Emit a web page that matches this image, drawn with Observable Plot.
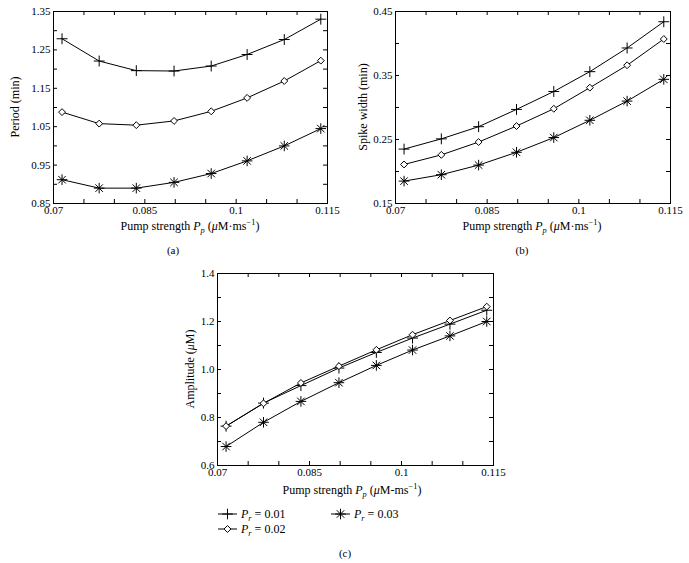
<!DOCTYPE html>
<html>
<head>
<meta charset="utf-8">
<script src="https://cdn.jsdelivr.net/npm/d3@7"></script>
<script src="https://cdn.jsdelivr.net/npm/@observablehq/plot@0.6"></script>
<style>
  html, body { margin: 0; padding: 0; background: white; }
  #root { position: relative; width: 689px; height: 563px; background: white; font-family: "Liberation Serif", "DejaVu Serif", "Times New Roman", Times, serif; color: black; overflow: hidden; }
  #root svg, #root svg text { font-family: "Liberation Serif", "DejaVu Serif", "Times New Roman", Times, serif !important; }
  .abs { position: absolute; white-space: nowrap; }
  .lbl { font-size: 12px; transform: translate(-50%, -50%); }
  .ylbl { font-size: 12px; transform: translate(-50%, -50%) rotate(-90deg); }
  .cap { font-size: 11px; transform: translate(-50%, -50%); }
  sub, sup { font-size: 70%; line-height: 0; }
</style>
</head>
<body>
<div id="root"></div>
<script>
// ---- data ----
const pumpStrength = [0.0714, 0.0775, 0.0836, 0.0898, 0.0959, 0.1018, 0.1079, 0.1139];
const seriesNames = ["Pr = 0.01", "Pr = 0.02", "Pr = 0.03"];
const periodPr001 = [1.279, 1.221, 1.196, 1.195, 1.208, 1.238, 1.277, 1.330];
const periodPr002 = [1.088, 1.058, 1.054, 1.065, 1.090, 1.125, 1.169, 1.222];
const periodPr003 = [0.912, 0.890, 0.890, 0.905, 0.928, 0.961, 1.000, 1.045];
const widthPr001 = [0.235, 0.251, 0.270, 0.297, 0.325, 0.356, 0.393, 0.434];
const widthPr002 = [0.211, 0.226, 0.246, 0.271, 0.298, 0.331, 0.366, 0.407];
const widthPr003 = [0.185, 0.195, 0.210, 0.230, 0.253, 0.280, 0.310, 0.344];
const ampPr001 = [0.764, 0.860, 0.933, 1.006, 1.071, 1.131, 1.189, 1.247];
const ampPr002 = [0.764, 0.859, 0.944, 1.014, 1.082, 1.145, 1.204, 1.262];
const ampPr003 = [0.679, 0.780, 0.867, 0.945, 1.017, 1.081, 1.140, 1.200];

const xMajorTicks = [0.07, 0.085, 0.1, 0.115];
const xMinorTicks = [0.07, 0.075, 0.08, 0.085, 0.09, 0.095, 0.1, 0.105, 0.11, 0.115];
const periodTicksMajor = [0.85, 0.95, 1.05, 1.15, 1.25, 1.35];
const periodTicksMinor = [0.85, 0.9, 0.95, 1.0, 1.05, 1.1, 1.15, 1.2, 1.25, 1.3, 1.35];
const widthTicksMajor = [0.15, 0.25, 0.35, 0.45];
const widthTicksMinor = [0.15, 0.2, 0.25, 0.3, 0.35, 0.4, 0.45];
const ampTicksMajor = [0.6, 0.8, 1.0, 1.2, 1.4];
const ampTicksMinor = [0.6, 0.7, 0.8, 0.9, 1.0, 1.1, 1.2, 1.3, 1.4];

const FONT = '"Liberation Serif", "DejaVu Serif", "Times New Roman", Times, serif';
const root = document.getElementById("root");

function toRows(arrs) {
  const rows = [];
  arrs.forEach((arr, s) => arr.forEach((v, i) => rows.push({x: pumpStrength[i], y: v, s: seriesNames[s]})));
  return rows;
}

function markerMarks(rows) {
  const plus = rows.filter(d => d.s === seriesNames[0]);
  const dia = rows.filter(d => d.s === seriesNames[1]);
  const star = rows.filter(d => d.s === seriesNames[2]);
  return [
    Plot.dot(plus, {x: "x", y: "y", symbol: "plus", r: 3.6, stroke: "black", strokeWidth: 1}),
    Plot.dot(dia, {x: "x", y: "y", symbol: "diamond2", r: 3.1, stroke: "black", fill: "white", strokeWidth: 1}),
    Plot.dot(star, {x: "x", y: "y", symbol: "plus", r: 3.5, stroke: "black", strokeWidth: 1}),
    Plot.dot(star, {x: "x", y: "y", symbol: "times", r: 3.5, stroke: "black", strokeWidth: 1})
  ];
}

function panel({arrs, yDomain, yMajor, yMinor, yFormat, left, top, W, H, ml, mr, mt, mb}) {
  const rows = toRows(arrs);
  const fw = W - ml - mr, fh = H - mt - mb, t = 4;
  const chart = Plot.plot({
    width: W, height: H,
    marginLeft: ml, marginRight: mr, marginTop: mt, marginBottom: mb,
    style: {fontFamily: FONT, fontSize: "11px", background: "transparent", color: "black", overflow: "visible"},
    x: {domain: [0.07, 0.115]},
    y: {domain: yDomain},
    marks: [
      Plot.tickX(xMinorTicks, {x: d => d, insetTop: fh - t, stroke: "black"}),
      Plot.tickX(xMinorTicks, {x: d => d, insetBottom: fh - t, stroke: "black"}),
      Plot.tickY(yMinor, {y: d => d, insetRight: fw - t, stroke: "black"}),
      Plot.tickY(yMinor, {y: d => d, insetLeft: fw - t, stroke: "black"}),
      Plot.axisX({ticks: xMajorTicks, tickSize: 0, tickPadding: 3, fontSize: 11, label: null, tickFormat: d3.format("")}),
      Plot.axisY({ticks: yMajor, tickSize: 0, tickPadding: 3, fontSize: 11, label: null, tickFormat: d3.format(yFormat)}),
      Plot.line(rows, {x: "x", y: "y", z: "s", stroke: "black", strokeWidth: 1}),
      ...markerMarks(rows),
      Plot.frame({stroke: "black", strokeWidth: 1})
    ]
  });
  chart.style.position = "absolute";
  chart.style.left = left + "px";
  chart.style.top = top + "px";
  root.appendChild(chart);
}

function html(cls, x, y, content) {
  const d = document.createElement("div");
  d.className = "abs " + cls;
  d.style.left = x + "px";
  d.style.top = y + "px";
  d.innerHTML = content;
  root.appendChild(d);
}

panel({arrs: [periodPr001, periodPr002, periodPr003], yDomain: [0.85, 1.35], yMajor: periodTicksMajor, yMinor: periodTicksMinor, yFormat: ".2f",
  left: 0, top: 0, W: 345, H: 230, ml: 53, mr: 18, mt: 11, mb: 27});
panel({arrs: [widthPr001, widthPr002, widthPr003], yDomain: [0.15, 0.45], yMajor: widthTicksMajor, yMinor: widthTicksMinor, yFormat: ".2f",
  left: 345, top: 0, W: 344, H: 230, ml: 50, mr: 19, mt: 11, mb: 27});
panel({arrs: [ampPr001, ampPr002, ampPr003], yDomain: [0.6, 1.4], yMajor: ampTicksMajor, yMinor: ampTicksMinor, yFormat: ".1f",
  left: 170, top: 250, W: 340, H: 240, ml: 47, mr: 17, mt: 23, mb: 25});

const xlab = sep => `Pump strength <i>P<sub>p</sub></i> (<i>μ</i>M${sep}ms<sup>−1</sup>)`;
html("lbl", 190, 226, xlab("·"));
html("lbl", 532, 226, xlab("·"));
html("lbl", 352, 490, xlab("-"));
html("ylbl", 15, 107, "Period (min)");
html("ylbl", 363, 107, "Spike width (min)");
html("ylbl", 190, 369, "Amplitude (<i>μ</i>M)");
html("cap", 173, 250, "(a)");
html("cap", 522, 250, "(b)");
html("cap", 345, 553, "(c)");

// legend
const legendItems = [
  {name: seriesNames[0], label: "<i>P<sub>r</sub></i> = 0.01", x: 218, y: 514, sym: ["plus"]},
  {name: seriesNames[1], label: "<i>P<sub>r</sub></i> = 0.02", x: 218, y: 529, sym: ["diamond2"]},
  {name: seriesNames[2], label: "<i>P<sub>r</sub></i> = 0.03", x: 331, y: 514, sym: ["plus", "times"]}
];
const lsvg = d3.select(root).append("svg")
  .style("position", "absolute").style("left", "0px").style("top", "0px")
  .attr("width", 689).attr("height", 563).style("pointer-events", "none");
legendItems.forEach(it => {
  lsvg.append("line").attr("x1", it.x).attr("x2", it.x + 19).attr("y1", it.y).attr("y2", it.y).attr("stroke", "black");
  it.sym.forEach(s => {
    const sy = s === "plus" ? d3.symbolPlus : s === "times" ? d3.symbolTimes : d3.symbolDiamond2;
    const r = s === "diamond2" ? 3.1 : 3.5;
    lsvg.append("path").attr("d", d3.symbol(sy, Math.PI * r * r)())
      .attr("transform", `translate(${it.x + 9.5},${it.y})`)
      .attr("stroke", "black").attr("fill", s === "diamond2" ? "white" : "none");
  });
  const d = document.createElement("div");
  d.className = "abs";
  d.style.left = (it.x + 23) + "px";
  d.style.top = it.y + "px";
  d.style.fontSize = "12px";
  d.style.transform = "translateY(-50%)";
  d.innerHTML = it.label;
  root.appendChild(d);
});
</script>
</body>
</html>
